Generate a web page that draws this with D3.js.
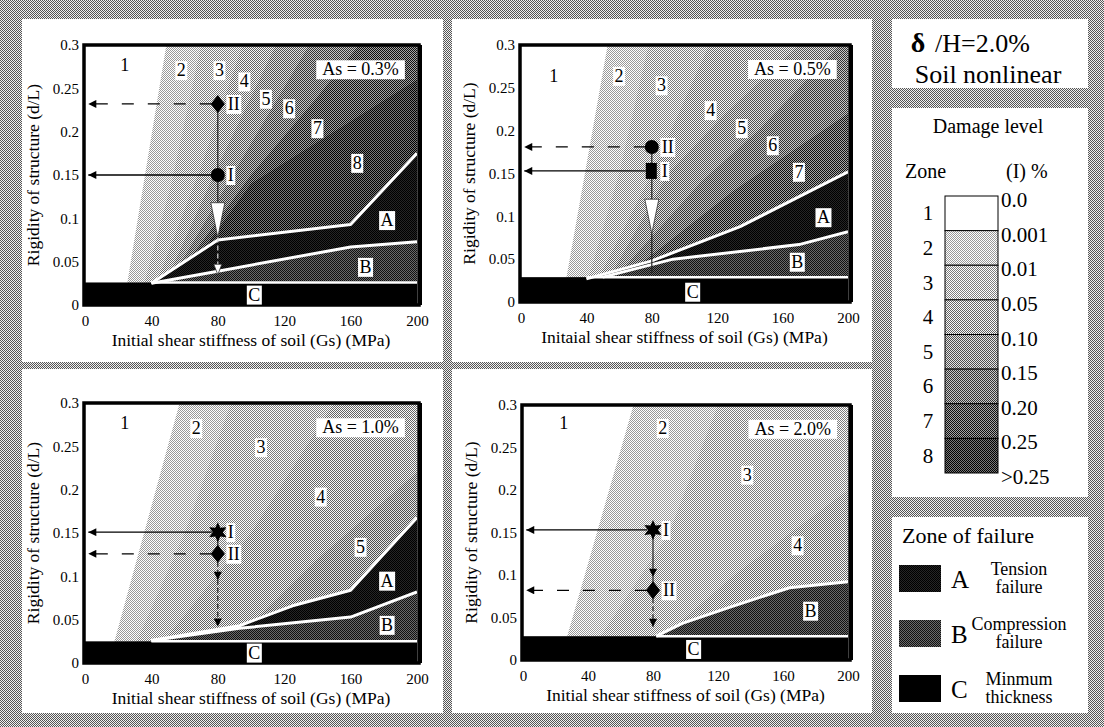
<!DOCTYPE html>
<html>
<head>
<meta charset="utf-8">
<script src="https://cdn.jsdelivr.net/npm/d3@7"></script>
<style>
  body { margin: 0; background: #fff; }
  svg { display: block; }
  text { font-family: "Liberation Serif", "Times New Roman", serif; fill: #000; }
</style>
</head>
<body>
<div id="chart"></div>
<script>
// ---- data (x = Gs in MPa, y = d/L) ----
var xTicks = [0, 40, 80, 120, 160, 200];
var yTicks = [0, 0.05, 0.1, 0.15, 0.2, 0.25, 0.3];
var yTickLabels = ["0", "0.05", "0.1", "0.15", "0.2", "0.25", "0.3"];

var panelTitles = ["As = 0.3%", "As = 0.5%", "As = 1.0%", "As = 2.0%"];
var xTitles = [
  "Initial shear stiffness of soil (Gs) (MPa)",
  "Initaial shear stiffness of soil (Gs) (MPa)",
  "Initial shear stiffness of soil (Gs) (MPa)",
  "Initial shear stiffness of soil (Gs) (MPa)"
];
var yTitle = "Rigidity of structure (d/L)";

// minimum thickness (top of zone C) and where the white line along it starts
var minThickness = [0.026, 0.029, 0.025, 0.028];
var minLineStart = [40, 40, 40, 82];

// boundaries between damage zones k and k+1
var as03Contours = [
  [[25, 0.02], [49, 0.3]],
  [[35, 0.02], [52, 0.14], [70, 0.3]],
  [[42, 0.02], [70, 0.16], [95, 0.3]],
  [[47, 0.02], [80, 0.16], [115, 0.3]],
  [[52, 0.03], [95, 0.17], [135, 0.3]],
  [[58, 0.04], [100, 0.15], [140, 0.24], [165, 0.3]],
  [[66, 0.05], [100, 0.14], [150, 0.2], [200, 0.26]]
];
var as05Contours = [
  [[27, 0.02], [53, 0.3]],
  [[40, 0.02], [60, 0.15], [78, 0.3]],
  [[48, 0.03], [80, 0.15], [115, 0.3]],
  [[56, 0.035], [90, 0.15], [125, 0.22], [170, 0.3]],
  [[62, 0.038], [110, 0.14], [145, 0.2], [195, 0.3]],
  [[70, 0.04], [130, 0.13], [200, 0.22]]
];
var as10Contours = [
  [[17, 0.02], [57, 0.3]],
  [[30, 0.02], [60, 0.15], [88, 0.3]],
  [[45, 0.02], [100, 0.15], [150, 0.3]],
  [[95, 0.035], [140, 0.12], [200, 0.22]]
];
var as20Contours = [
  [[26, 0.02], [68, 0.3]],
  [[45, 0.02], [90, 0.15], [120, 0.3]],
  [[82, 0.02], [130, 0.1], [200, 0.2]]
];

// upper limit of tension failure (A) and of compression failure (B)
var as03Tension = [[40, 0.025], [80, 0.075], [160, 0.093], [200, 0.175]];
var as03Compression = [[40, 0.025], [80, 0.039], [160, 0.067], [200, 0.073]];
var as05Tension = [[40, 0.027], [80, 0.048], [134, 0.088], [200, 0.152]];
var as05Compression = [[50, 0.029], [93, 0.05], [170, 0.067], [200, 0.082]];
var as10Tension = [[40, 0.026], [93, 0.043], [125, 0.066], [160, 0.084], [200, 0.168]];
var as10Compression = [[40, 0.026], [93, 0.04], [160, 0.053], [200, 0.082]];
var as20Tension = [];
var as20Compression = [[82, 0.028], [98, 0.043], [127, 0.062], [164, 0.085], [200, 0.092]];

// zone numbers [label, x, y]
var as03Zones = [["1", 24, 0.277], ["2", 58, 0.271], ["3", 81, 0.271], ["4", 96, 0.258], ["5", 109, 0.238], ["6", 123, 0.227], ["7", 140, 0.204], ["8", 164, 0.164]];
var as05Zones = [["1", 20, 0.264], ["2", 60, 0.264], ["3", 86, 0.253], ["4", 116, 0.224], ["5", 135, 0.203], ["6", 154, 0.183], ["7", 170, 0.152]];
var as10Zones = [["1", 24, 0.277], ["2", 67, 0.271], ["3", 106, 0.249], ["4", 142, 0.192], ["5", 166, 0.134]];
var as20Zones = [["1", 25, 0.279], ["2", 86, 0.273], ["3", 138, 0.218], ["4", 169, 0.135]];

var as03Fail = [["A", 182, 0.098], ["B", 169, 0.044], ["C", 102, 0.012]];
var as05Fail = [["A", 185, 0.099], ["B", 169, 0.047], ["C", 105, 0.012]];
var as10Fail = [["A", 182, 0.095], ["B", 182, 0.044], ["C", 102, 0.012]];
var as20Fail = [["B", 177, 0.058], ["C", 105, 0.013]];

// design points I and II [label, x, y] and their symbols
var as03Points = [["I", 80, 0.15], ["II", 80, 0.232]];
var as05Points = [["I", 80, 0.153], ["II", 80, 0.181]];
var as10Points = [["I", 80, 0.151], ["II", 80, 0.126]];
var as20Points = [["I", 80, 0.153], ["II", 80, 0.082]];
var as03Symbols = ["circle", "diamond"];
var as05Symbols = ["square", "circle"];
var as10Symbols = ["star", "diamond"];
var as20Symbols = ["star", "diamond"];

// downward moves at Gs = 80 [kind, yFrom, yTo]
var as03Drops = [["line", 0.232, 0.15], ["line", 0.15, 0.118], ["big", 0.118, 0.078], ["dash", 0.078, 0.04], ["small", 0.047, 0.035]];
var as05Drops = [["line", 0.181, 0.153], ["line", 0.153, 0.12], ["big", 0.12, 0.08], ["line", 0.08, 0.034]];
var as10Drops = [["line", 0.151, 0.126], ["dashHead", 0.126, 0.096], ["dashHead", 0.096, 0.042]];
var as20Drops = [["head", 0.153, 0.098], ["line", 0.098, 0.082], ["dashHead", 0.082, 0.039]];

// legends
var legendZones = ["1", "2", "3", "4", "5", "6", "7", "8"];
var legendLimits = ["0.0", "0.001", "0.01", "0.05", "0.10", "0.15", "0.20", "0.25", ">0.25"];
var failureKeys = ["A", "B", "C"];
var failureNames = [["Tension", "failure"], ["Compression", "failure"], ["Minmum", "thickness"]];

// ---- layout & style ----
var W = 1104, H = 727;
var levelGray = [255, 204, 190, 175, 154, 126, 90, 60];
var panels = [
  { box: [22, 19, 421, 343], px: [85, 417], py: [305, 45] },
  { box: [452, 19, 420, 343], px: [521, 848], py: [302, 45] },
  { box: [22, 369, 421, 344], px: [85, 417], py: [663, 403] },
  { box: [452, 369, 420, 344], px: [523, 848], py: [660, 405] }
];
var panelData = [
  [as03Contours, as03Tension, as03Compression, as03Zones, as03Fail, as03Points, as03Symbols, as03Drops],
  [as05Contours, as05Tension, as05Compression, as05Zones, as05Fail, as05Points, as05Symbols, as05Drops],
  [as10Contours, as10Tension, as10Compression, as10Zones, as10Fail, as10Points, as10Symbols, as10Drops],
  [as20Contours, as20Tension, as20Compression, as20Zones, as20Fail, as20Points, as20Symbols, as20Drops]
];

var svg = d3.select("#chart").append("svg").attr("width", W).attr("height", H);
var defs = svg.append("defs");

// 2x2 dither, like the halftone in the scan
function checker(id, light, dark) {
  var p = defs.append("pattern").attr("id", id)
    .attr("width", 2).attr("height", 2).attr("patternUnits", "userSpaceOnUse");
  p.append("rect").attr("width", 2).attr("height", 2).attr("fill", light);
  p.append("rect").attr("width", 1).attr("height", 1).attr("fill", dark);
  p.append("rect").attr("x", 1).attr("y", 1).attr("width", 1).attr("height", 1).attr("fill", dark);
}
function grey(v) { v = Math.max(0, Math.min(255, Math.round(v))); return d3.rgb(v, v, v).formatHex(); }
levelGray.forEach(function(g, i) {
  var s = Math.min(g, 255 - g, 75);
  checker("lv" + (i + 1), grey(g + s), grey(g - s));
});
checker("lvA", "#262626", "#000000");
checker("lvB", "#6a6a6a", "#111111");
checker("bg", "#f0f0f0", "#555555");

var arrowHead = defs.append("marker").attr("id", "head")
  .attr("viewBox", "0 0 10 10").attr("refX", 10).attr("refY", 5)
  .attr("markerWidth", 14).attr("markerHeight", 8)
  .attr("markerUnits", "userSpaceOnUse").attr("orient", "auto");
arrowHead.append("path").attr("d", "M0,0L10,5L0,10z").attr("fill", "#000");
var smallHead = defs.append("marker").attr("id", "smallhead")
  .attr("viewBox", "0 0 10 10").attr("refX", 10).attr("refY", 5)
  .attr("markerWidth", 11).attr("markerHeight", 8)
  .attr("markerUnits", "userSpaceOnUse").attr("orient", "auto");
smallHead.append("path").attr("d", "M0,0L10,5L0,10z").attr("fill", "#000");

// page background + white boxes
svg.append("rect").attr("width", W).attr("height", H).attr("fill", "url(#bg)");
panels.forEach(function(p) {
  svg.append("rect").attr("x", p.box[0]).attr("y", p.box[1])
    .attr("width", p.box[2]).attr("height", p.box[3]).attr("fill", "#fff");
});
[[892, 19, 196, 69], [892, 108, 196, 389], [892, 517, 196, 196]].forEach(function(b) {
  svg.append("rect").attr("x", b[0]).attr("y", b[1]).attr("width", b[2]).attr("height", b[3]).attr("fill", "#fff");
});

function boxedText(g, x, y, str, size, pad) {
  var t = g.append("text").attr("x", x).attr("y", y)
    .attr("text-anchor", "middle").attr("dominant-baseline", "central")
    .style("font-size", size + "px").text(str);
  var b = t.node().getBBox();
  g.insert("rect", function() { return t.node(); })
    .attr("x", b.x - pad).attr("y", b.y + 1).attr("width", b.width + 2 * pad).attr("height", b.height - 1)
    .attr("fill", "#fff");
  return t;
}

function symbolPath(kind, cx, cy) {
  if (kind === "circle") { var c = d3.path(); c.arc(cx, cy, 7, 0, 2 * Math.PI); return c.toString(); }
  if (kind === "diamond") return "M" + cx + "," + (cy - 9) + "L" + (cx + 7) + "," + cy + "L" + cx + "," + (cy + 9) + "L" + (cx - 7) + "," + cy + "Z";
  if (kind === "square") return "M" + (cx - 6) + "," + (cy - 8) + "h11v16h-11z";
  var pts = [];
  for (var i = 0; i < 12; i++) {
    var a = -Math.PI / 2 + i * Math.PI / 6, r = i % 2 ? 5 : 10;
    pts.push([cx + r * Math.cos(a), cy + r * Math.sin(a)]);
  }
  return "M" + pts.join("L") + "Z";
}

panels.forEach(function(p, pi) {
  var d = panelData[pi];
  var contours = d[0], tension = d[1], compression = d[2], zones = d[3],
      fails = d[4], points = d[5], symbols = d[6], drops = d[7];
  var cTop = minThickness[pi];
  var x = d3.scaleLinear().domain([0, 200]).range(p.px);
  var y = d3.scaleLinear().domain([0, 0.3]).range(p.py);
  var line = d3.line().x(function(v) { return x(v[0]); }).y(function(v) { return y(v[1]); });

  var g = svg.append("g");
  defs.append("clipPath").attr("id", "clip" + pi).append("rect")
    .attr("x", x(0)).attr("y", y(0.3)).attr("width", x(200) - x(0)).attr("height", y(0) - y(0.3));
  var plot = g.append("g").attr("clip-path", "url(#clip" + pi + ")");

  plot.append("rect").attr("x", x(0)).attr("y", y(0.3))
    .attr("width", x(200) - x(0)).attr("height", y(0) - y(0.3)).attr("fill", "#fff");

  // damage zones: each contour fills everything to its lower right
  contours.forEach(function(c, k) {
    var pts = c.slice();
    if (pts[pts.length - 1][0] < 200) pts.push([200, 0.3]);
    pts.push([200, 0]);
    pts.push([c[0][0], 0]);
    plot.append("path").attr("d", line(pts) + "Z").attr("fill", "url(#lv" + (k + 2) + ")");
  });

  // failure zones
  if (tension.length) {
    plot.append("path").attr("d", line(tension.concat(compression.slice().reverse())) + "Z")
      .attr("fill", "url(#lvA)");
  }
  var c0 = compression[0][0];
  plot.append("path").attr("d", line(compression.concat([[200, cTop], [c0, cTop]])) + "Z")
    .attr("fill", "url(#lvB)");
  plot.append("rect").attr("x", x(0)).attr("y", y(cTop))
    .attr("width", x(200) - x(0)).attr("height", y(0) - y(cTop)).attr("fill", "#000");

  [tension, compression].forEach(function(l) {
    if (!l.length) return;
    plot.append("path").attr("d", line(l)).attr("fill", "none")
      .attr("stroke", "#fff").attr("stroke-width", 3).attr("stroke-linejoin", "round");
  });
  plot.append("path").attr("d", line([[minLineStart[pi], cTop], [200, cTop]]))
    .attr("stroke", "#fff").attr("stroke-width", 2.5);

  // frame
  g.append("rect").attr("x", x(0) - 1).attr("y", y(0.3))
    .attr("width", x(200) - x(0) + 3).attr("height", y(0) - y(0.3))
    .attr("fill", "none").attr("stroke", "#000").attr("stroke-width", 3.5);
  g.append("line").attr("x1", x(200) + 3).attr("x2", x(200) + 3)
    .attr("y1", y(0.3)).attr("y2", y(0)).attr("stroke", "#000").attr("stroke-width", 4);

  // labels inside the plot
  zones.concat(fails).forEach(function(z) {
    boxedText(g, x(z[1]), y(z[2]), z[0], 18, 1.5);
  });
  boxedText(g, x(166), y(0.272), panelTitles[pi], 18, 6);

  // arrows to the d/L axis
  points.forEach(function(pt) {
    g.append("line").attr("x1", x(pt[1]) - 6).attr("x2", x(2))
      .attr("y1", y(pt[2])).attr("y2", y(pt[2]))
      .attr("stroke", "#000").attr("stroke-width", 1.3)
      .attr("stroke-dasharray", pt[0] === "II" ? "12,14" : null)
      .attr("marker-end", "url(#head)");
  });

  // downward moves
  drops.forEach(function(dr) {
    var xc = x(80), y1 = y(dr[1]), y2 = y(dr[2]);
    if (dr[0] === "big" || dr[0] === "small") {
      var hw = dr[0] === "big" ? 7 : 4;
      g.append("path").attr("d", "M" + (xc - hw) + "," + y1 + "L" + (xc + hw) + "," + y1 + "L" + xc + "," + y2 + "Z")
        .attr("fill", "#fff").attr("stroke", "#333").attr("stroke-width", 0.8);
      return;
    }
    g.append("line").attr("x1", xc).attr("x2", xc).attr("y1", y1).attr("y2", y2)
      .attr("stroke", dr[0] === "dash" ? "#ddd" : "#222").attr("stroke-width", 1.2)
      .attr("stroke-dasharray", dr[0] === "dash" || dr[0] === "dashHead" ? "5,3" : null)
      .attr("marker-end", dr[0] === "head" || dr[0] === "dashHead" ? "url(#smallhead)" : null);
  });

  // design points
  points.forEach(function(pt, i) {
    g.append("path").attr("d", symbolPath(symbols[i], x(pt[1]), y(pt[2]))).attr("fill", "#000");
    boxedText(g, x(pt[1]) + 13 + (pt[0] === "II" ? 3 : 0), y(pt[2]), pt[0], 18, 1.5);
  });

  // axes
  var ya = g.append("g").attr("transform", "translate(" + (x(0) - 3) + ",0)")
    .call(d3.axisLeft(y).tickValues(yTicks).tickSize(0).tickPadding(3)
      .tickFormat(function(v, i) { return yTickLabels[i]; }));
  ya.select(".domain").remove();
  ya.selectAll("text").style("font-size", "15px");
  ya.attr("font-family", null).attr("font-size", null);

  var xa = g.append("g").attr("transform", "translate(0," + y(0) + ")")
    .call(d3.axisBottom(x).tickValues(xTicks).tickSize(0).tickPadding(10));
  xa.select(".domain").remove();
  xa.selectAll("text").style("font-size", "15px");
  xa.attr("font-family", null).attr("font-size", null);

  g.append("text").attr("x", x(100)).attr("y", y(0) + 41)
    .attr("text-anchor", "middle").style("font-size", "17.5px").text(xTitles[pi]);
  g.append("text").attr("transform", "translate(" + (x(0) - 46) + "," + ((y(0) + y(0.3)) / 2) + ") rotate(-90)")
    .attr("text-anchor", "middle").style("font-size", "17.5px").text(yTitle);
});

// ---- title box ----
svg.append("text").attr("x", 918).attr("y", 52).attr("text-anchor", "middle")
  .style("font-size", "28px").style("font-weight", "bold").text("\u03b4");
svg.append("text").attr("x", 935).attr("y", 52).style("font-size", "26px").text("/H=2.0%");
svg.append("text").attr("x", 988).attr("y", 83).attr("text-anchor", "middle").style("font-size", "26px").text("Soil nonlinear");

// ---- damage level legend ----
var lg = svg.append("g");
lg.append("text").attr("x", 988).attr("y", 133).attr("text-anchor", "middle").style("font-size", "20px").text("Damage level");
lg.append("text").attr("x", 905).attr("y", 178).style("font-size", "20px").text("Zone");
lg.append("text").attr("x", 1006).attr("y", 178).style("font-size", "20px").text("(I) %");
var ly = d3.scaleLinear().domain([0, legendZones.length]).range([196, 473]);
legendZones.forEach(function(z, i) {
  lg.append("rect").attr("x", 945).attr("y", ly(i)).attr("width", 53).attr("height", ly(i + 1) - ly(i))
    .attr("fill", "url(#lv" + (i + 1) + ")").attr("stroke", "#000").attr("stroke-width", 1);
  lg.append("text").attr("x", 928).attr("y", (ly(i) + ly(i + 1)) / 2 + 7)
    .attr("text-anchor", "middle").style("font-size", "21px").text(z);
});
legendLimits.forEach(function(l, i) {
  lg.append("text").attr("x", 1001).attr("y", ly(i) + 11).style("font-size", "21px").text(l);
});

// ---- failure legend ----
var fg = svg.append("g");
fg.append("text").attr("x", 902).attr("y", 543).style("font-size", "22px").text("Zone of failure");
var fy = d3.scalePoint().domain(failureKeys).range([578, 688]);
var swatchFill = { A: "url(#lvA)", B: "url(#lvB)", C: "#000" };
failureKeys.forEach(function(k, i) {
  var cy = fy(k);
  fg.append("rect").attr("x", 899).attr("y", cy - 13).attr("width", 42).attr("height", 27).attr("fill", swatchFill[k]);
  fg.append("text").attr("x", 951).attr("y", cy + 10).style("font-size", "25px").text(k);
  fg.append("text").attr("x", 1019).attr("y", cy - 3).attr("text-anchor", "middle").style("font-size", "18px").text(failureNames[i][0]);
  fg.append("text").attr("x", 1019).attr("y", cy + 15).attr("text-anchor", "middle").style("font-size", "18px").text(failureNames[i][1]);
});
</script>
</body>
</html>
